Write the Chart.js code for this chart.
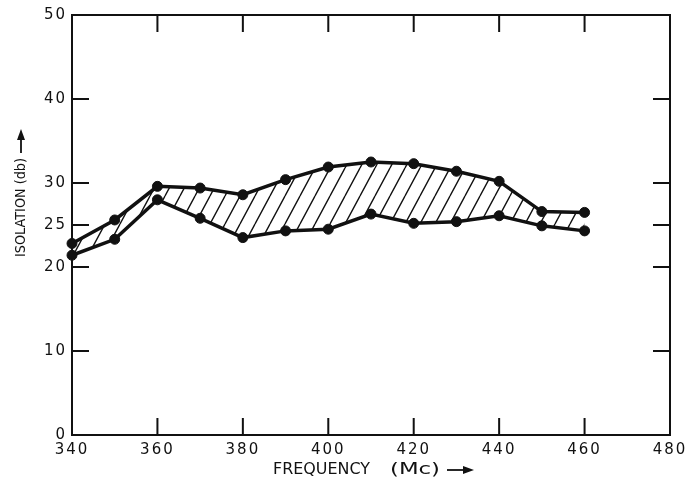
<!DOCTYPE html>
<html>
<head>
<meta charset="utf-8">
<title>Isolation vs Frequency</title>
<script src="https://cdn.jsdelivr.net/npm/chart.js@4.4.1/dist/chart.umd.min.js"></script>
<style>
  html, body { margin: 0; padding: 0; background: #fff; }
  #wrap { width: 699px; height: 486px; }
</style>
</head>
<body>
<div id="wrap"><canvas id="isoChart"></canvas></div>
<script>
// Data
const freqMc = [340, 350, 360, 370, 380, 390, 400, 410, 420, 430, 440, 450, 460];
const upperIsolation = [22.8, 25.6, 29.6, 29.4, 28.6, 30.4, 31.9, 32.5, 32.3, 31.4, 30.2, 26.6, 26.5];
const lowerIsolation = [21.4, 23.3, 28.0, 25.8, 23.5, 24.3, 24.5, 26.3, 25.2, 25.4, 26.1, 24.9, 24.3];

const yTickValues = [0, 10, 20, 25, 30, 40, 50];
const xTickValues = [340, 360, 380, 400, 420, 440, 460, 480];
const yMarkValues = [10, 20, 25, 30, 40];
const xMarkValues = [360, 380, 400, 420, 440, 460];

const INK = '#111';

// diagonal hatch for the band between the two curves
function makeHatch() {
    const c = document.createElement('canvas');
    c.width = 15;
    c.height = 28;
    const g = c.getContext('2d');
    g.strokeStyle = INK;
    g.lineWidth = 1.4;
    g.beginPath();
    for (const o of [-15, 0, 15]) {
        g.moveTo(o, 28);
        g.lineTo(o + 15, 0);
    }
    g.stroke();
    return g.createPattern(c, 'repeat');
}

function arrowHead(ctx, x, y, dx, dy) {
    // filled triangle pointing along (dx, dy)
    const px = -dy, py = dx;
    ctx.beginPath();
    ctx.moveTo(x, y);
    ctx.lineTo(x - dx * 11 + px * 4, y - dy * 11 + py * 4);
    ctx.lineTo(x - dx * 11 - px * 4, y - dy * 11 - py * 4);
    ctx.closePath();
    ctx.fill();
}

// draw text stretched to a given width (the original lettering is wide)
function fitText(ctx, text, x, y, width) {
    const w = ctx.measureText(text).width;
    ctx.save();
    ctx.translate(x, y);
    ctx.scale(width / w, 1);
    ctx.fillText(text, 0, 0);
    ctx.restore();
}

// wide lettering for tick labels
const spacingPlugin = {
    id: 'spacing',
    beforeDraw(chart) {
        chart.ctx.letterSpacing = '2px';
    }
};

// frame, inward ticks and axis titles with arrows
const framePlugin = {
    id: 'frame',
    afterDraw(chart) {
        const ctx = chart.ctx;
        const a = chart.chartArea;
        const xs = chart.scales.x;
        const ys = chart.scales.y;
        const len = 17;
        ctx.save();
        ctx.strokeStyle = INK;
        ctx.lineWidth = 2;
        ctx.strokeRect(a.left, a.top, a.right - a.left, a.bottom - a.top);
        ctx.beginPath();
        yMarkValues.forEach(v => {
            const y = ys.getPixelForValue(v);
            ctx.moveTo(a.left, y); ctx.lineTo(a.left + len, y);
            ctx.moveTo(a.right, y); ctx.lineTo(a.right - len, y);
        });
        xMarkValues.forEach(v => {
            const x = xs.getPixelForValue(v);
            ctx.moveTo(x, a.bottom); ctx.lineTo(x, a.bottom - len);
            ctx.moveTo(x, a.top); ctx.lineTo(x, a.top + len);
        });
        ctx.stroke();

        ctx.fillStyle = INK;
        ctx.textAlign = 'left';
        ctx.textBaseline = 'middle';
        ctx.letterSpacing = '0px';

        // x title
        const ty = 470;
        ctx.font = '15px "DejaVu Sans"';
        fitText(ctx, 'FREQUENCY', 273, ty, 97);
        fitText(ctx, '(Mc)', 390, ty, 50);
        ctx.lineWidth = 1.8;
        ctx.beginPath();
        ctx.moveTo(447, ty); ctx.lineTo(464, ty);
        ctx.stroke();
        arrowHead(ctx, 474, ty, 1, 0);

        // y title, rotated
        ctx.font = '14px "DejaVu Sans"';
        ctx.translate(21, 257);
        ctx.rotate(-Math.PI / 2);
        fitText(ctx, 'ISOLATION (db)', 0, 0, 99);
        ctx.beginPath();
        ctx.moveTo(104, 0); ctx.lineTo(118, 0);
        ctx.stroke();
        arrowHead(ctx, 128, 0, 1, 0);
        ctx.restore();
    }
};

const upperPts = freqMc.map((f, i) => ({ x: f, y: upperIsolation[i] }));
const lowerPts = freqMc.map((f, i) => ({ x: f, y: lowerIsolation[i] }));

const lineStyle = {
    borderColor: INK,
    borderWidth: 3.5,
    pointRadius: 5,
    pointBackgroundColor: INK,
    pointBorderColor: INK,
    pointBorderWidth: 1,
    tension: 0,
    clip: false
};

new Chart(document.getElementById('isoChart'), {
    type: 'line',
    data: {
        datasets: [
            Object.assign({ label: 'Upper', data: upperPts, fill: '+1', backgroundColor: makeHatch() }, lineStyle),
            Object.assign({ label: 'Lower', data: lowerPts, fill: false }, lineStyle)
        ]
    },
    options: {
        responsive: true,
        maintainAspectRatio: false,
        animation: false,
        layout: { padding: { left: 0, right: 29, top: 15, bottom: 0 } },
        plugins: {
            legend: { display: false },
            tooltip: { enabled: false }
        },
        scales: {
            x: {
                type: 'linear',
                min: 340,
                max: 480,
                grid: { display: false, drawTicks: false },
                border: { display: false },
                afterBuildTicks: s => { s.ticks = xTickValues.map(v => ({ value: v })); },
                afterFit: s => { s.height = 51; },
                ticks: {
                    color: INK,
                    padding: 6,
                    maxRotation: 0,
                    font: { family: 'DejaVu Sans', size: 15 }
                }
            },
            y: {
                min: 0,
                max: 50,
                grid: { display: false, drawTicks: false },
                border: { display: false },
                afterBuildTicks: s => { s.ticks = yTickValues.map(v => ({ value: v })); },
                afterFit: s => { s.width = 72; },
                ticks: {
                    color: INK,
                    padding: 5,
                    font: { family: 'DejaVu Sans', size: 15 }
                }
            }
        }
    },
    plugins: [spacingPlugin, framePlugin]
});
</script>
</body>
</html>
